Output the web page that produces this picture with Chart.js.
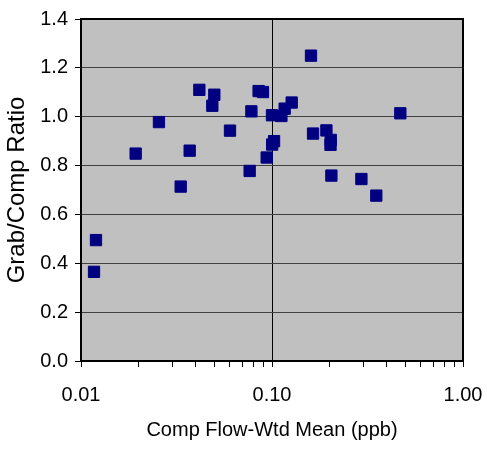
<!DOCTYPE html>
<html>
<head>
<meta charset="utf-8">
<script src="https://cdn.jsdelivr.net/npm/chart.js@4"></script>
<style>
  html, body { margin: 0; padding: 0; background: #fff; }
  canvas { display: block; }
</style>
</head>
<body>
<canvas id="grafico" width="487" height="455"></canvas>
<script>
// DADOS
const compMean = [
  0.01198, 0.01170, 0.01933, 0.02559, 0.03326, 0.03707, 0.04165, 0.04989, 0.04870, 0.06026,
  0.0851, 0.0897, 0.0780, 0.1000, 0.1120, 0.1165, 0.1268, 0.1025, 0.1002, 0.0938,
  0.0764, 0.1640, 0.1927, 0.2030, 0.2025, 0.1600, 0.2046, 0.2938, 0.3516, 0.4698
];
const grabCompRatio = [
  0.495, 0.365, 0.849, 0.978, 0.714, 0.861, 1.110, 1.090, 1.045, 0.943,
  1.105, 1.101, 1.022, 1.006, 1.003, 1.033, 1.058, 0.900, 0.886, 0.833,
  0.778, 0.931, 0.944, 0.905, 0.885, 1.250, 0.759, 0.745, 0.677, 1.014
];
const xTicks = [0.01, 0.02, 0.03, 0.04, 0.05, 0.06, 0.07, 0.08, 0.09,
                0.1, 0.2, 0.3, 0.4, 0.5, 0.6, 0.7, 0.8, 0.9, 1];
const xLabeled = [0.01, 0.1, 1];
const yMin = 0, yMax = 1.4, yStep = 0.2;

const fonte = "'Liberation Sans', Arial, sans-serif";

// fundo cinza + moldura da área do gráfico
const areaPlot = {
  id: "areaPlot",
  beforeDraw(chart) {
    const { ctx, chartArea: a } = chart;
    ctx.save();
    ctx.fillStyle = "#c0c0c0";
    ctx.fillRect(a.left, a.top, a.right - a.left, a.bottom - a.top);
    ctx.restore();
  },
  beforeDatasetsDraw(chart) {
    const { ctx, chartArea: a } = chart;
    ctx.save();
    ctx.strokeStyle = "#000";
    ctx.lineWidth = 2;
    ctx.strokeRect(a.left, a.top, a.right - a.left, a.bottom - a.top);
    ctx.restore();
  }
};

new Chart(document.getElementById("grafico"), {
  type: "scatter",
  data: {
    datasets: [{
      data: compMean.map((x, i) => ({ x, y: grabCompRatio[i] })),
      pointStyle: "rect",
      pointRadius: 8,
      pointHoverRadius: 8,
      pointBorderWidth: 1,
      backgroundColor: "#000080",
      borderColor: "#000080"
    }]
  },
  options: {
    responsive: false,
    animation: false,
    layout: { padding: { top: 19, right: 24, left: 0, bottom: 0 } },
    plugins: { legend: { display: false }, tooltip: { enabled: false } },
    scales: {
      x: {
        type: "logarithmic",
        min: 0.01,
        max: 1,
        afterBuildTicks: s => { s.ticks = xTicks.map(v => ({ value: v })); },
        afterFit: s => { s.height = 94; s.paddingLeft = 0; s.paddingRight = 0; },
        border: { display: false },
        grid: {
          color: c => (c.tick && c.tick.value === 0.1) ? "#000" : "rgba(0,0,0,0)",
          tickColor: "#000",
          tickLength: 6,
          lineWidth: 1
        },
        ticks: {
          autoSkip: false,
          maxRotation: 0,
          padding: 16,
          color: "#000",
          font: { family: fonte, size: 20 },
          callback: v => xLabeled.includes(v) ? v.toFixed(2) : ""
        },
        title: {
          display: true,
          text: "Comp Flow-Wtd Mean (ppb)",
          color: "#000",
          font: { family: fonte, size: 20 },
          padding: { top: 0, bottom: 13 }
        }
      },
      y: {
        min: yMin,
        max: yMax,
        afterFit: s => { s.width = 81; s.paddingTop = 0; s.paddingBottom = 0; },
        border: { display: false },
        grid: { color: "#404040", tickColor: "#000", tickLength: 6, lineWidth: 1 },
        ticks: {
          stepSize: yStep,
          padding: 7,
          color: "#000",
          font: { family: fonte, size: 20 },
          callback: v => v.toFixed(1)
        },
        title: {
          display: true,
          text: "Grab/Comp Ratio",
          color: "#000",
          font: { family: fonte, size: 24 },
          padding: { top: 3, bottom: 0 }
        }
      }
    }
  },
  plugins: [areaPlot]
});
</script>
</body>
</html>
